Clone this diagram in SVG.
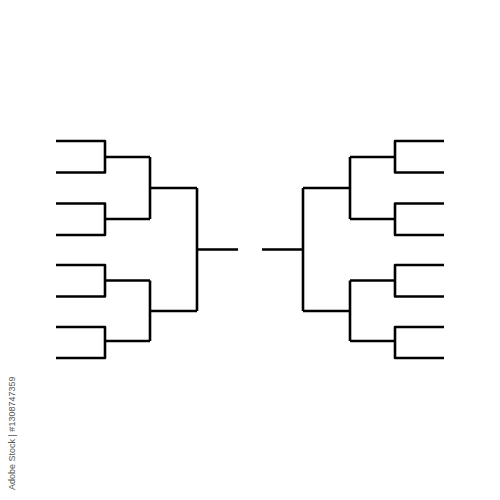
<svg xmlns="http://www.w3.org/2000/svg" width="500" height="500" viewBox="0 0 500 500">
<style>
.b{fill:none;stroke:#000;stroke-width:2.6;stroke-linejoin:round;stroke-linecap:butt}
.wm{font-family:"Liberation Sans",Arial,sans-serif;font-size:9px;fill:#555}
</style>
<rect width="500" height="500" fill="#fff"/>
<g id="left">
<g id="l-r1a"><path class="b" d="M56,141 H105 V172.5 H56 M105,157 H150"/></g>
<g id="l-r1b"><path class="b" d="M56,203.5 H105 V235 H56 M105,219 H150"/></g>
<g id="l-r1c"><path class="b" d="M56,265 H105 V296.5 H56 M105,280.5 H150"/></g>
<g id="l-r1d"><path class="b" d="M56,327 H105 V358 H56 M105,341 H150"/></g>
<g id="l-r2a"><path class="b" d="M150,157 V219 M150,188 H197"/></g>
<g id="l-r2b"><path class="b" d="M150,280.5 V341 M150,311 H197"/></g>
<g id="l-r3"><path class="b" d="M197,188 V311 M197,249.5 H238"/></g>
</g>
<g id="right">
<g id="r-r1a"><path class="b" d="M444,141 H395 V172.5 H444 M395,157 H350"/></g>
<g id="r-r1b"><path class="b" d="M444,203.5 H395 V235 H444 M395,219 H350"/></g>
<g id="r-r1c"><path class="b" d="M444,265 H395 V296.5 H444 M395,280.5 H350"/></g>
<g id="r-r1d"><path class="b" d="M444,327 H395 V358 H444 M395,341 H350"/></g>
<g id="r-r2a"><path class="b" d="M350,157 V219 M350,188 H303"/></g>
<g id="r-r2b"><path class="b" d="M350,280.5 V341 M350,311 H303"/></g>
<g id="r-r3"><path class="b" d="M303,188 V311 M303,249.5 H262"/></g>
</g>
<text class="wm" transform="translate(15,490) rotate(-90)">Adobe Stock | #1308747359</text>
</svg>
